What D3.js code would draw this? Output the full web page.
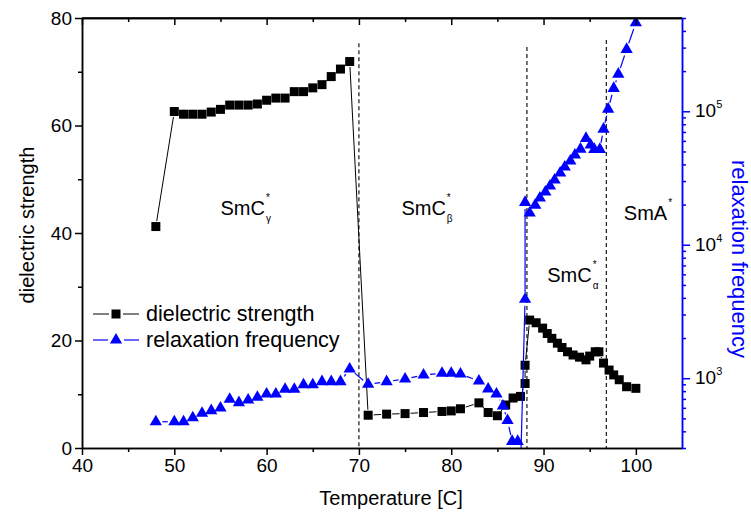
<!DOCTYPE html>
<html>
<head>
<meta charset="utf-8">
<script src="https://cdn.jsdelivr.net/npm/d3@7"></script>
<style>
  body { margin: 0; background: #fff; }
  text { font-family: "Liberation Sans", Arial, sans-serif; }
</style>
</head>
<body>
<div id="chart"></div>
<script>
// dielectric strength (left axis)
var tempDiel = [48, 50, 51, 52, 53, 54, 55, 56, 57, 58, 59, 60, 61, 62, 63, 64, 65, 66, 67, 68, 69,
	71, 73, 75, 77, 79, 80, 81, 83, 84, 85, 85.9, 86.7, 87.5, 88.0, 88.0,
	88.5, 89.2, 89.9, 90.4, 90.9, 91.5, 92.0, 92.6, 93.2, 93.9, 94.6, 95.0, 95.6, 96.0,
	96.5, 97.1, 97.6, 98.2, 99.0, 100.0];
var dielStrength = [41.2, 62.6, 62.1, 62.1, 62.1, 62.5, 63.0, 63.8, 63.8, 63.8, 64.0, 64.7, 65.1, 65.1, 66.3, 66.3, 67.0, 67.6, 69.1, 70.5, 71.9,
	6.1, 6.3, 6.4, 6.6, 6.8, 6.9, 7.3, 8.4, 6.6, 6.0, 8.0, 9.3, 9.6, 12.0, 15.4,
	23.8, 23.3, 22.3, 21.3, 20.4, 19.5, 18.7, 17.9, 17.3, 16.9, 16.4, 17.1, 17.9, 17.9,
	15.8, 14.5, 13.6, 12.7, 11.4, 11.1];

// relaxation frequency (right axis, log)
var tempFreq = [48, 50, 51, 52, 53, 54, 55, 56, 57, 58, 59, 60, 61, 62, 63, 64, 65, 66, 67, 68, 69,
	71, 73, 75, 77, 79, 80, 81, 83, 84, 84.9, 85.6, 86.1, 86.6, 87.2, 87.5, 88.0, 88.0,
	88.5, 89.1, 89.6, 90.2, 90.7, 91.2, 91.8, 92.3, 92.9, 93.4, 94.0, 94.6, 95.1, 95.5, 96.1,
	96.5, 97.0, 97.6, 98.1, 99.0, 100.0];
var relaxFreq = [472, 472, 472, 506, 546, 571, 598, 695, 656, 687, 719, 762, 762, 826, 826, 894, 894, 942, 942, 942, 1173,
	900, 942, 987, 1057, 1088, 1088, 1075, 953, 830, 762, 619, 482, 336, 336, 200, 3900, 20760,
	17270, 19820, 22380, 24830, 27530, 30530, 34450, 38200, 42360, 46970, 52080, 62690, 55830, 51840, 51840,
	73450, 103700, 148300, 189800, 290900, 460000];

var xTicks = [40, 50, 60, 70, 80, 90, 100];
var leftTicks = [0, 20, 40, 60, 80];
var rightTicks = [1e3, 1e4, 1e5];

// phase transitions (dashed lines)
var transitionT = [70, 88.2, 96.8];
var transitionTop = [75.3, 74.6, 75.9];

// phase labels
var phaseName = ["SmC", "SmC", "SmC", "SmA"];
var phaseSub = ["\u03b3", "\u03b2", "\u03b1", ""];
var phaseT = [55.0, 74.6, 90.4, 98.7];
var phaseLevel = [43.3, 43.3, 30.9, 42.4];

var W = 751, H = 516;
var margin = {top: 18, right: 69, bottom: 68, left: 82};
var width = W - margin.left - margin.right;
var height = H - margin.top - margin.bottom;

var svg = d3.select("#chart").append("svg")
	.attr("width", W).attr("height", H)
	.append("g")
	.attr("transform", "translate(" + margin.left + "," + margin.top + ")");

var x = d3.scaleLinear().domain([40, 105]).range([0, width]);
var y = d3.scaleLinear().domain([0, 80]).range([height, 0]);
var yR = d3.scaleLog().domain([300, 5e5]).range([height, 0]);

var blue = "#0000ff";

svg.append("clipPath").attr("id", "clip")
	.append("rect").attr("width", width).attr("height", height);

// dashed transition lines
svg.selectAll(".trans")
	.data(transitionT)
	.enter().append("line")
	.attr("x1", function(d) { return x(d); })
	.attr("x2", function(d) { return x(d); })
	.attr("y1", function(d, i) { return y(transitionTop[i]); })
	.attr("y2", height)
	.attr("stroke", "#000")
	.attr("stroke-width", 1.1)
	.attr("stroke-dasharray", "4,3");

// line segments with a gap around each symbol, like Origin does
function gapSegments(px, py, gap) {
	var segs = [];
	for (var i = 1; i < px.length; i++) {
		var dx = px[i] - px[i - 1], dy = py[i] - py[i - 1];
		var L = Math.sqrt(dx * dx + dy * dy);
		if (L <= 2 * gap) continue;
		var ux = dx / L, uy = dy / L;
		segs.push([px[i - 1] + ux * gap, py[i - 1] + uy * gap, px[i] - ux * gap, py[i] - uy * gap]);
	}
	return segs;
}

var plot = svg.append("g").attr("clip-path", "url(#clip)");

// dielectric strength
var dx1 = tempDiel.map(function(t) { return x(t); });
var dy1 = dielStrength.map(function(v) { return y(v); });
plot.selectAll(".segD")
	.data(gapSegments(dx1, dy1, 5.5))
	.enter().append("line")
	.attr("x1", function(s) { return s[0]; }).attr("y1", function(s) { return s[1]; })
	.attr("x2", function(s) { return s[2]; }).attr("y2", function(s) { return s[3]; })
	.attr("stroke", "#000").attr("stroke-width", 1);

plot.selectAll(".sq")
	.data(tempDiel)
	.enter().append("rect")
	.attr("x", function(d, i) { return x(d) - 4.5; })
	.attr("y", function(d, i) { return y(dielStrength[i]) - 4.5; })
	.attr("width", 9).attr("height", 9)
	.attr("fill", "#000");

// relaxation frequency
var fx = tempFreq.map(function(t) { return x(t); });
var fy = relaxFreq.map(function(v) { return yR(v); });
plot.selectAll(".segF")
	.data(gapSegments(fx, fy, 6.5))
	.enter().append("line")
	.attr("x1", function(s) { return s[0]; }).attr("y1", function(s) { return s[1]; })
	.attr("x2", function(s) { return s[2]; }).attr("y2", function(s) { return s[3]; })
	.attr("stroke", blue).attr("stroke-width", 1.2);

var tri = d3.symbol().type(d3.symbolTriangle).size(65);
plot.selectAll(".tri")
	.data(tempFreq)
	.enter().append("path")
	.attr("d", tri)
	.attr("transform", function(d, i) { return "translate(" + x(d) + "," + yR(relaxFreq[i]) + ")"; })
	.attr("fill", blue);

// axes
var fontTick = 19;

// bottom
svg.append("g").attr("transform", "translate(0," + height + ")")
	.call(d3.axisBottom(x).tickValues(xTicks).tickSize(7).tickSizeOuter(0).tickPadding(4));
svg.append("g").attr("transform", "translate(0," + height + ")")
	.call(d3.axisBottom(x).tickValues(d3.range(45, 105, 10)).tickSize(4).tickSizeOuter(0).tickFormat(""));
// top (ticks inward)
svg.append("g")
	.call(d3.axisBottom(x).tickValues(xTicks).tickSize(7).tickSizeOuter(0).tickFormat(""));
svg.append("g")
	.call(d3.axisBottom(x).tickValues(d3.range(45, 105, 10)).tickSize(4).tickSizeOuter(0).tickFormat(""));

// left
svg.append("g")
	.call(d3.axisLeft(y).tickValues(leftTicks).tickSize(7).tickSizeOuter(0).tickPadding(3));
svg.append("g")
	.call(d3.axisLeft(y).tickValues([10, 30, 50, 70]).tickSize(4).tickSizeOuter(0).tickFormat(""));

// right (log)
var minor = [];
[100, 1000, 10000, 100000].forEach(function(p) {
	for (var k = 2; k <= 9; k++) {
		var v = k * p;
		if (v >= 300 && v <= 5e5) minor.push(v);
	}
});
var rAxis = svg.append("g").attr("transform", "translate(" + width + ",0)")
	.call(d3.axisRight(yR).tickValues(rightTicks).tickSize(8).tickSizeOuter(0).tickFormat(""));
svg.append("g").attr("transform", "translate(" + width + ",0)")
	.call(d3.axisRight(yR).tickValues(minor).tickSize(4).tickSizeOuter(0).tickFormat(""))
	.attr("class", "rminor");

svg.selectAll(".domain, .tick line").attr("stroke", "#000").attr("stroke-width", 1.5);
svg.selectAll(".tick text").attr("font-size", fontTick).attr("fill", "#000")
	.style("font-family", "'Liberation Sans', Arial, sans-serif");

// recolour right axis blue
rAxis.selectAll(".domain, .tick line").attr("stroke", blue);
svg.selectAll(".rminor .domain, .rminor .tick line").attr("stroke", blue);

// top frame line
svg.append("line").attr("x1", 0).attr("x2", width).attr("y1", 0).attr("y2", 0)
	.attr("stroke", "#000").attr("stroke-width", 1.5);

// right axis labels 10^n
rightTicks.forEach(function(v) {
	var t = svg.append("text")
		.attr("x", width + 13)
		.attr("y", yR(v) + 6)
		.attr("font-size", fontTick)
		.attr("fill", "#000");
	t.append("tspan").text("10");
	t.append("tspan").attr("font-size", 11).attr("dy", -9).text(Math.round(Math.log10(v)));
});

// axis titles
svg.append("text")
	.attr("x", width / 2 + 9)
	.attr("y", height + 57)
	.attr("text-anchor", "middle")
	.attr("font-size", 20)
	.text("Temperature [C]");

svg.append("text")
	.attr("transform", "translate(" + (-48) + "," + (height / 2 - 8) + ")rotate(-90)")
	.attr("text-anchor", "middle")
	.attr("font-size", 20)
	.text("dielectric strength");

svg.append("text")
	.attr("transform", "translate(" + (width + 50) + "," + (height / 2 + 26) + ")rotate(90)")
	.attr("text-anchor", "middle")
	.attr("font-size", 22)
	.attr("fill", blue)
	.text("relaxation frequency");

// phase labels
phaseName.forEach(function(n, i) {
	var px = x(phaseT[i]), py = y(phaseLevel[i]);
	var t = svg.append("text").attr("x", px).attr("y", py).attr("font-size", 20).text(n);
	var w = t.node().getComputedTextLength();
	svg.append("text").attr("x", px + w + 1).attr("y", py - 14).attr("font-size", 10).text("*");
	if (phaseSub[i]) {
		svg.append("text").attr("x", px + w + 1).attr("y", py + 7).attr("font-size", 10).text(phaseSub[i]);
	}
});

// legend
var legend = svg.append("g").attr("transform", "translate(" + (116 - margin.left) + "," + (314 - margin.top) + ")");
legend.append("line").attr("x1", -23).attr("x2", -7).attr("stroke", "#000").attr("stroke-width", 1);
legend.append("line").attr("x1", 7).attr("x2", 23).attr("stroke", "#000").attr("stroke-width", 1);
legend.append("rect").attr("x", -4.5).attr("y", -4.5).attr("width", 9).attr("height", 9).attr("fill", "#000");
legend.append("text").attr("x", 30).attr("y", 7).attr("font-size", 21.5).text("dielectric strength");

var lg2 = legend.append("g").attr("transform", "translate(0,26)");
lg2.append("line").attr("x1", -23).attr("x2", -8).attr("stroke", blue).attr("stroke-width", 1.2);
lg2.append("line").attr("x1", 8).attr("x2", 23).attr("stroke", blue).attr("stroke-width", 1.2);
lg2.append("path").attr("d", tri).attr("fill", blue);
lg2.append("text").attr("x", 30).attr("y", 7).attr("font-size", 21.5).text("relaxation frequency");
</script>
</body>
</html>
